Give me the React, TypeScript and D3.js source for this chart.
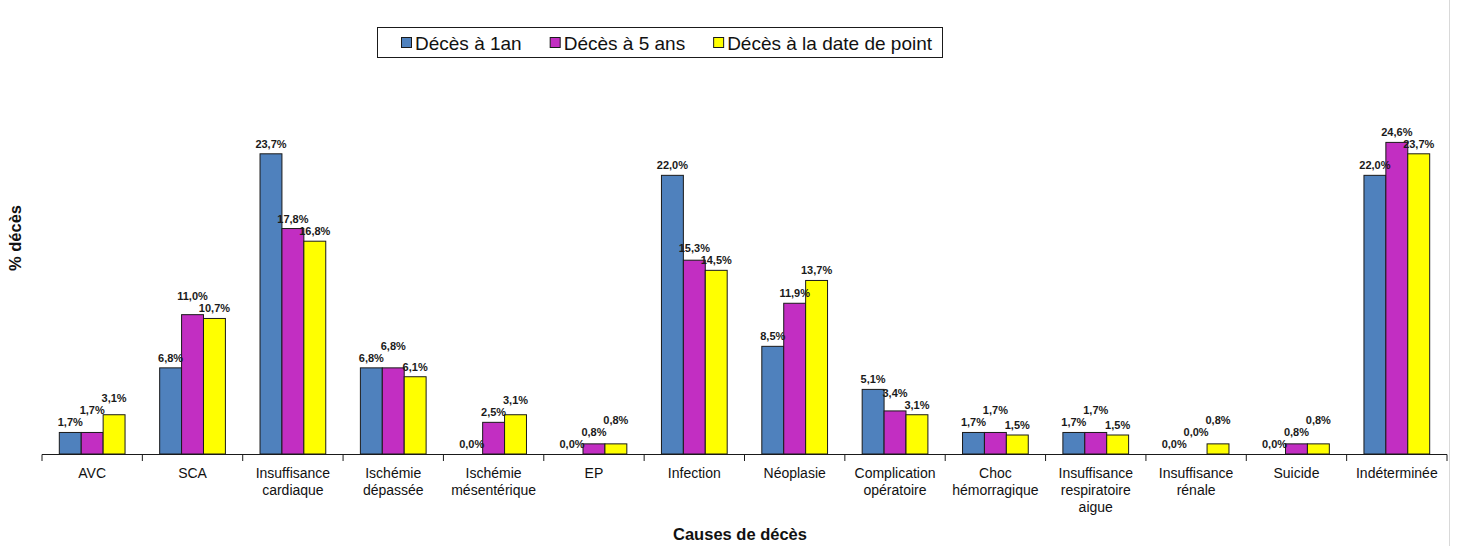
import React from "react";
import * as d3 from "d3";

const categories: string[] = [
  "AVC",
  "SCA",
  "Insuffisance\ncardiaque",
  "Ischémie\ndépassée",
  "Ischémie\nmésentérique",
  "EP",
  "Infection",
  "Néoplasie",
  "Complication\nopératoire",
  "Choc\nhémorragique",
  "Insuffisance\nrespiratoire\naigue",
  "Insuffisance\nrénale",
  "Suicide",
  "Indéterminée",
];

const seriesNames: string[] = ["Décès à 1an", "Décès à 5 ans", "Décès à la date de point"];
const deces1an: number[] = [1.7, 6.8, 23.7, 6.8, 0.0, 0.0, 22.0, 8.5, 5.1, 1.7, 1.7, 0.0, 0.0, 22.0];
const deces5ans: number[] = [1.7, 11.0, 17.8, 6.8, 2.5, 0.8, 15.3, 11.9, 3.4, 1.7, 1.7, 0.0, 0.8, 24.6];
const decesDate: number[] = [3.1, 10.7, 16.8, 6.1, 3.1, 0.8, 14.5, 13.7, 3.1, 1.5, 1.5, 0.8, 0.8, 23.7];
const seriesColors: string[] = ["#4F81BD", "#C22EC2", "#FFFF00"];

const xTitle = "Causes de décès";
const yTitle = "% décès";

const W = 1459;
const H = 546;
const FONT = "'Liberation Sans', Arial, sans-serif";

function measure(text: string, font: string): number {
  const c = document.createElement("canvas");
  const ctx = c.getContext("2d");
  if (!ctx) return text.length * 9;
  ctx.font = font;
  return ctx.measureText(text).width;
}

export default function App() {
  const series = [deces1an, deces5ans, decesDate];
  const ids = categories.map((_, i) => String(i));

  const x0 = d3.scaleBand<string>().domain(ids).range([42, 1447]).paddingInner(0.345).paddingOuter(0.1725);
  const x1 = d3.scaleBand<string>().domain(["0", "1", "2"]).range([0, x0.bandwidth()]);
  const y = d3.scaleLinear().domain([0, 30]).range([454, 454 - 380]);
  const fmt = (v: number) => d3.format(".1f")(v).replace(".", ",") + "%";

  const step = x0.step();
  const tickXs = d3.range(categories.length + 1).map((i) => 42 + i * step);

  // label baselines with simple collision avoidance inside each group
  const LH = 11.5;
  const labelY: number[][] = categories.map((_, i) => {
    const ly = series.map((vals) => y(vals[i]) - 6);
    const resolve = (a: number, b: number) => {
      if (Math.abs(ly[a] - ly[b]) < LH) {
        const va = series[a][i];
        const vb = series[b][i];
        if (va > vb) ly[a] = ly[b] - LH - 0.5;
        else ly[b] = ly[a] - LH - 0.5;
      }
    };
    resolve(0, 1);
    resolve(1, 2);
    resolve(0, 1);
    return ly;
  });

  // legend layout
  const legFont = `19px ${FONT}`;
  let lx = 401;
  const legItems = seriesNames.map((n, i) => {
    const item = { name: n, x: lx, color: seriesColors[i] };
    lx += 14 + measure(n, legFont) + 28;
    return item;
  });

  return (
    <svg width={W} height={H} style={{ position: "absolute", left: 0, top: 0, background: "#fff" }} fontFamily={FONT}>
      <rect x={0} y={0} width={W} height={H} fill="#fff" />
      <line x1={1449.5} x2={1449.5} y1={0} y2={H} stroke="#d9d9d9" strokeWidth={1} />

      {/* bars */}
      {series.map((vals, s) =>
        vals.map((v, i) => (
          <rect
            key={`b${s}-${i}`}
            x={(x0(String(i)) as number) + (x1(String(s)) as number)}
            y={y(v)}
            width={x1.bandwidth()}
            height={y(0) - y(v)}
            fill={seriesColors[s]}
            stroke="#1a1a1a"
            strokeWidth={1}
          />
        ))
      )}

      {/* data labels */}
      {series.map((vals, s) =>
        vals.map((v, i) => (
          <text
            key={`l${s}-${i}`}
            x={(x0(String(i)) as number) + (x1(String(s)) as number) + x1.bandwidth() / 2}
            y={labelY[i][s]}
            textAnchor="middle"
            fontSize={11}
            fontWeight="bold"
            fill="#1a1a1a"
          >
            {fmt(v)}
          </text>
        ))
      )}

      {/* x axis */}
      <line x1={42} x2={1447} y1={454.5} y2={454.5} stroke="#1a1a1a" strokeWidth={1} />
      {tickXs.map((tx, i) => (
        <line key={`t${i}`} x1={tx} x2={tx} y1={454.5} y2={461} stroke="#1a1a1a" strokeWidth={1} />
      ))}
      {categories.map((c, i) => (
        <text
          key={`c${i}`}
          x={(x0(String(i)) as number) + x0.bandwidth() / 2}
          y={478}
          textAnchor="middle"
          fontSize={14}
          fill="#111"
        >
          {c.split("\n").map((ln, k) => (
            <tspan key={k} x={(x0(String(i)) as number) + x0.bandwidth() / 2} dy={k === 0 ? 0 : 17}>
              {ln}
            </tspan>
          ))}
        </text>
      ))}

      {/* axis titles */}
      <text x={740} y={540} textAnchor="middle" fontSize={16.5} fontWeight="bold" fill="#111">
        {xTitle}
      </text>
      <text
        transform={`translate(21,238) rotate(-90)`}
        textAnchor="middle"
        fontSize={16.5}
        fontWeight="bold"
        fill="#111"
      >
        {yTitle}
      </text>

      {/* legend */}
      <rect x={377.5} y={27.5} width={565} height={30} fill="#fff" stroke="#1a1a1a" strokeWidth={1} />
      {legItems.map((it, i) => (
        <g key={`lg${i}`}>
          <rect x={it.x + 0.5} y={37.5} width={10} height={10} fill={it.color} stroke="#1a1a1a" strokeWidth={1} />
          <text x={it.x + 14} y={49.5} fontSize={19} fill="#111">
            {it.name}
          </text>
        </g>
      ))}
    </svg>
  );
}
